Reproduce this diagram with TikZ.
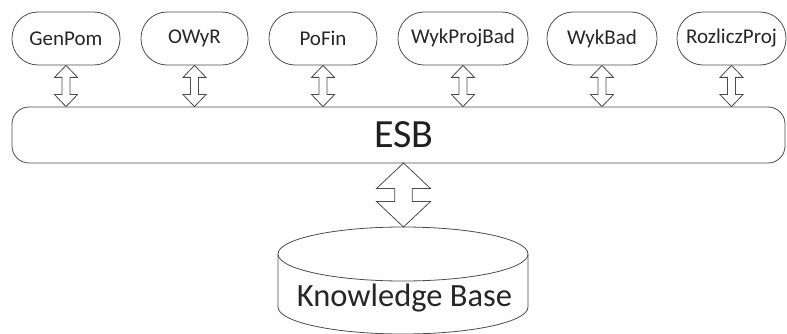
\documentclass[tikz,border=0pt]{standalone}
\usepackage{fontspec}
\setmainfont{Carlito}
\usetikzlibrary{calc}

% hollow two-headed block arrow from #1 (top tip) to #2 (bottom tip)
% #3 = half width of the heads, #4 = half width of the shaft, #5 = head length
\newcommand\dualarrow[5]{%
  \draw[line, fill=white]
    (#1) -- ($(#1)+(#3,#5)$) -- ($(#1)+(#4,#5)$) -- ($(#2)+(#4,-#5)$)
    -- ($(#2)+(#3,-#5)$) -- (#2) -- ($(#2)+(-#3,-#5)$) -- ($(#2)+(-#4,-#5)$)
    -- ($(#1)+(-#4,#5)$) -- ($(#1)+(-#3,#5)$) -- cycle;}

\begin{document}
\begin{tikzpicture}[x=1pt, y=-1pt,
  line/.style={draw=black!70, line width=0.8pt},
  svc/.style={line, rounded corners=26pt, minimum height=53pt, inner sep=0pt,
    font=\fontsize{21}{24}\selectfont, text=black!85},
  bus/.style={line, rounded corners=17pt, minimum width=773pt, minimum height=56pt,
    inner sep=0pt, font=\fontsize{40}{46}\selectfont, text=black!88},
  store/.style={font=\fontsize{32.5}{38}\selectfont, text=black!85, inner sep=0pt}]
\useasboundingbox (0,0) rectangle (787,334);

% services
\node[svc, minimum width=108pt] (g) at (66,38.5) {GenPom};
\node[svc, minimum width=107pt] (o) at (194.5,38.5) {OWyR};
\node[svc, minimum width=108pt] (p) at (323,38.5) {PoFin};
\node[svc, minimum width=130pt] (wp) at (463,38.5) {WykProjBad};
\node[svc, minimum width=110pt] (wb) at (602,38.5) {WykBad};
\node[svc, minimum width=109pt] (r) at (731.5,38.5) {RozliczProj};

% enterprise service bus
\node[bus] (esb) at (398.5,135) {\hspace*{11pt}ESB};

% knowledge base cylinder
\coordinate (kbtop) at (403,254);
\coordinate (kbbot) at (403,307);
\draw[line, fill=white] ($(kbtop)+(-125,0)$) -- ($(kbbot)+(-125,0)$)
  arc[start angle=180, end angle=0, x radius=125, y radius=27]
  -- ($(kbtop)+(125,0)$);
\draw[line, fill=white] (kbtop) ellipse[x radius=125, y radius=27];
\node[store, anchor=base] (kb) at (404.5,306.5) {Knowledge Base};

% links between the services and the bus
\foreach \s in {g,o,p,wp,wb,r}{
  \coordinate (\s-bus) at (\s.south |- esb.north);
  \dualarrow{\s.south}{\s-bus}{11.5}{4}{12}
}

% link between the bus and the knowledge base
\coordinate (esb-kb) at (403.5,163);
\coordinate (kb-esb) at ($(kbtop)+(0.5,-27)$);
\dualarrow{esb-kb}{kb-esb}{27}{8.75}{25.5}
\end{tikzpicture}
\end{document}
